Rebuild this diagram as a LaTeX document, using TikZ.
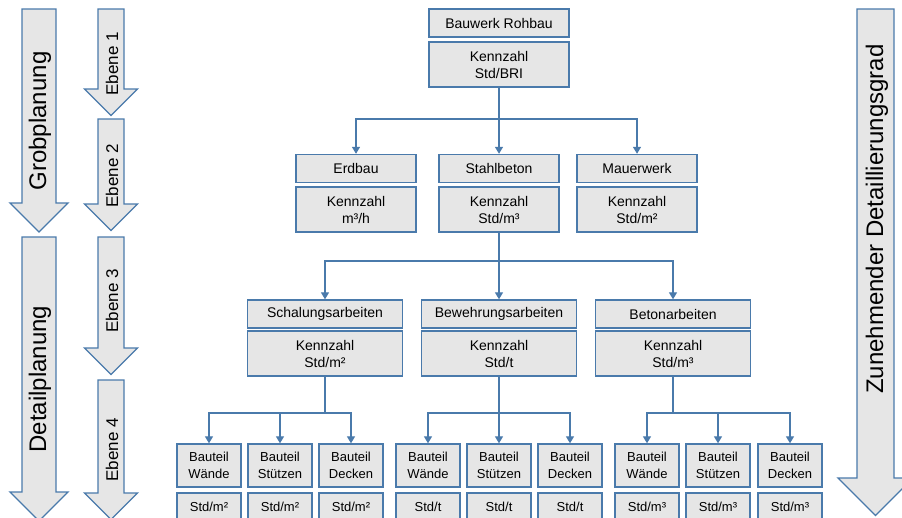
\documentclass[tikz,border=0pt]{standalone}
\usepackage{fontspec}
\setmainfont{Liberation Sans}
\usetikzlibrary{arrows.meta}
\definecolor{edgeblue}{HTML}{4A7AAB}
\definecolor{boxgray}{HTML}{E6E6E6}

% downward block arrow: centre x, top y, half shaft width, head base y, half head width
\newcommand\pfeil[5]{%
  \path[bigarrow] (#1-#3,#2) -- (#1+#3,#2) -- (#1+#3,#4) -- (#1+#5,#4)
    -- (#1,#4+#5) -- (#1-#5,#4) -- (#1-#3,#4) -- cycle;}

\begin{document}
\begin{tikzpicture}[x=1pt,y=-1pt,
  box/.style={draw=edgeblue, fill=boxgray, line width=1.4pt, inner sep=0pt,
    align=center, font=\fontsize{14}{17}\selectfont},
  head/.style={box, minimum height=28pt},
  kenn/.style={box, minimum height=45pt},
  small/.style={box, minimum width=64pt, font=\fontsize{13}{16.5}\selectfont},
  conn/.style={draw=edgeblue, line width=1.3pt},
  tip/.style={conn, -{Triangle[width=8pt,length=7pt]}},
  bigarrow/.style={draw=edgeblue, fill=boxgray, line width=1.3pt},
  side/.style={rotate=90, font=\fontsize{24}{27}\selectfont},
  lvl/.style={rotate=90, font=\fontsize{17}{20}\selectfont}]

\useasboundingbox (0,0) rectangle (902,517);

% block arrows at the sides
\pfeil{39}{9}{17}{203}{29}
\pfeil{39}{237}{17}{492}{29}
\pfeil{111}{9}{13}{89}{26.5}
\pfeil{111}{119}{13}{204}{26.5}
\pfeil{111}{237}{13}{348}{26.5}
\pfeil{111}{380}{13}{493}{26.5}
\pfeil{875.5}{9}{18.5}{478}{37.5}

\node[side] (grob) at (40,121) {Grobplanung};
\node[side] (detail) at (40,379) {Detailplanung};
\node[lvl] (e1) at (112,64) {Ebene 1};
\node[lvl] (e2) at (112,176) {Ebene 2};
\node[lvl] (e3) at (112,301) {Ebene 3};
\node[lvl] (e4) at (112,450) {Ebene 4};
\node[side] (zun) at (877,219) {Zunehmender Detaillierungsgrad};

% level 1
\node[head, minimum width=140pt] (bau) at (499,23) {Bauwerk Rohbau};
\node[kenn, minimum width=140pt] (bauk) at (499,64.5) {Kennzahl\\Std/BRI};

% level 2
\node[head, minimum width=120pt] (erd) at (356,168.5) {Erdbau};
\node[kenn, minimum width=120pt] (erdk) at (356,209.5) {Kennzahl\\m³/h};
\node[head, minimum width=120pt] (stb) at (499,168.5) {Stahlbeton};
\node[kenn, minimum width=120pt] (stbk) at (499,209.5) {Kennzahl\\Std/m³};
\node[head, minimum width=120pt] (mau) at (637,168.5) {Mauerwerk};
\node[kenn, minimum width=120pt] (mauk) at (637,209.5) {Kennzahl\\Std/m²};

% level 3
\node[head, minimum width=155pt] (sch) at (325,314) {Schalungsarbeiten};
\node[kenn, minimum width=155pt] (schk) at (325,353.5) {Kennzahl\\Std/m²};
\node[head, minimum width=155pt] (bew) at (499,314) {Bewehrungsarbeiten};
\node[kenn, minimum width=155pt] (bewk) at (499,353.5) {Kennzahl\\Std/t};
\node[head, minimum width=155pt] (bet) at (673,314) {Betonarbeiten};
\node[kenn, minimum width=155pt] (betk) at (673,353.5) {Kennzahl\\Std/m³};

% level 4
\foreach \n/\x/\t/\u in {a1/209/Wände/{Std/m²}, a2/280/Stützen/{Std/m²}, a3/351/Decken/{Std/m²},
    b1/428/Wände/{Std/t}, b2/499/Stützen/{Std/t}, b3/570/Decken/{Std/t},
    c1/647/Wände/{Std/m³}, c2/718/Stützen/{Std/m³}, c3/790/Decken/{Std/m³}}{
  \node[small, minimum height=43pt] (\n) at (\x,465.5) {Bauteil\\\t};
  \node[small, minimum height=28pt] (\n u) at (\x,507) {\u};
}

% connectors
\coordinate (j1) at (499,119);
\draw[conn] (bauk.south) -- (j1);
\draw[tip] (j1) -| (erd.north);
\draw[tip] (j1) -- (stb.north);
\draw[tip] (j1) -| (mau.north);

\coordinate (j2) at (499,261);
\draw[conn] (stbk.south) -- (j2);
\draw[tip] (j2) -| (sch.north);
\draw[tip] (j2) -- (bew.north);
\draw[tip] (j2) -| (bet.north);

\coordinate (ja) at (325,413);
\draw[conn] (schk.south) -- (ja);
\foreach \n in {a1,a2,a3} \draw[tip] (ja) -| (\n.north);
\coordinate (jb) at (499,413);
\draw[conn] (bewk.south) -- (jb);
\foreach \n in {b1,b2,b3} \draw[tip] (jb) -| (\n.north);
\coordinate (jc) at (673,413);
\draw[conn] (betk.south) -- (jc);
\foreach \n in {c1,c2,c3} \draw[tip] (jc) -| (\n.north);
\end{tikzpicture}
\end{document}
